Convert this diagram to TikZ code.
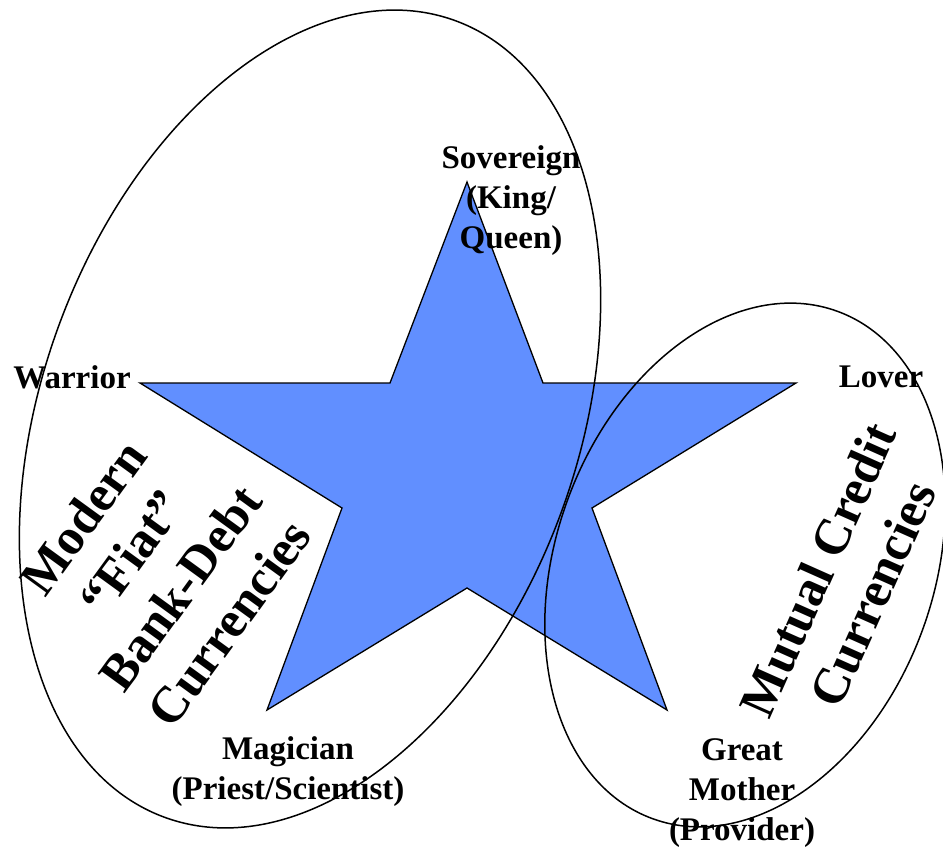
\documentclass[tikz,border=0pt]{standalone}
\usepackage{fontspec}
\setmainfont{Liberation Serif}
\usepackage{tikz}
\usetikzlibrary{calc}
\definecolor{starblue}{RGB}{97,143,255}
\tikzset{
	role/.style={font=\bfseries\fontsize{33}{40}\selectfont, align=center, inner sep=0pt},
	money/.style={font=\bfseries\fontsize{51}{60}\selectfont, align=center, inner sep=0pt},
	oval/.style={draw=black, line width=1.5pt}
}
\begin{document}
\begin{tikzpicture}[x=1pt,y=-1pt]
	\useasboundingbox (0,0) rectangle (943,851);
	\coordinate (P1) at (467,182);
	\coordinate (P2) at (543,383);
	\coordinate (P3) at (796,383);
	\coordinate (P4) at (592,508);
	\coordinate (P5) at (667,710);
	\coordinate (P6) at (467,588);
	\coordinate (P7) at (267,710);
	\coordinate (P8) at (342,508);
	\coordinate (P9) at (140,383);
	\coordinate (P10) at (390,383);
	\coordinate (C1) at (310,419);
	\coordinate (C2) at (745,565);
	\fill[starblue] (P1) -- (P2) -- (P3) -- (P4) -- (P5) -- (P6) -- (P7) -- (P8) -- (P9) -- (P10) -- cycle;
	\draw[line width=1.3pt] (P1) -- (P2) -- (P3) -- (P4) -- (P5) -- (P6) -- (P7) -- (P8) -- (P9) -- (P10) -- cycle;
	\draw[oval, rotate around={70:(C1)}] (C1) ellipse (424 and 268);
	\draw[oval, rotate around={70:(C2)}] (C2) ellipse (270 and 189);
	\node[role] (sovereign) at (511,201) {Sovereign\\(King/\\Queen)};
	\node[role] (warrior) at (72,377) {Warrior};
	\node[role] (lover) at (881,377) {Lover};
	\node[role] (magician) at (288,772) {Magician\\(Priest/Scientist)};
	\node[role] (mother) at (742,793) {Great\\Mother\\(Provider)};
	\node[money, rotate=54] (fiat) at (156,570) {Modern\\``Fiat''\\Bank-Debt\\Currencies};
	\node[money, rotate=66] (mutual) at (845,582) {Mutual Credit\\Currencies};
\end{tikzpicture}
\end{document}
